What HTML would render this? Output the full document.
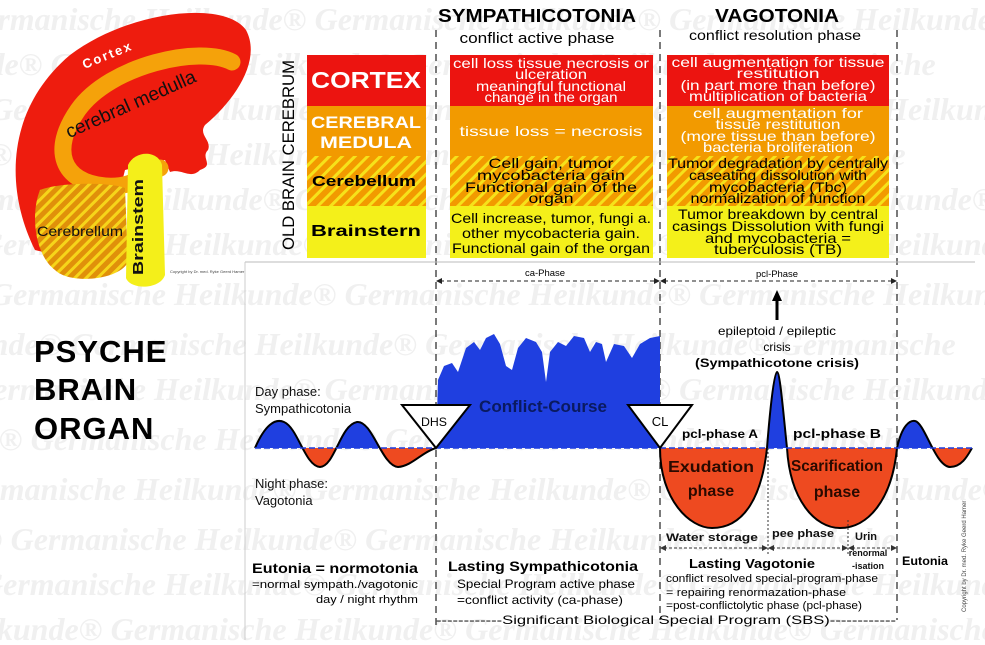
<!DOCTYPE html>
<html><head><meta charset="utf-8"><style>
html,body{margin:0;padding:0;background:#fff;}
svg{display:block;font-family:"Liberation Sans","DejaVu Sans",sans-serif;}
</style></head><body>
<svg width="985" height="645" viewBox="0 0 985 645" xmlns="http://www.w3.org/2000/svg">
<defs>
<pattern id="st" width="9" height="9" patternUnits="userSpaceOnUse" patternTransform="rotate(45)">
<rect width="9" height="9" fill="#f29a00"/><rect width="3" height="9" fill="#f6e21a"/>
</pattern>
<pattern id="st2" width="8" height="8" patternUnits="userSpaceOnUse" patternTransform="rotate(45)">
<rect width="8" height="8" fill="#e0900a"/><rect width="3" height="8" fill="#f6d51a"/>
</pattern>
<clipPath id="up"><rect x="0" y="0" width="985" height="448"/></clipPath>
<clipPath id="dn"><rect x="0" y="448" width="985" height="200"/></clipPath>
</defs>
<!-- watermark -->
<g font-family="Liberation Serif,serif" font-weight="bold" font-style="italic" font-size="32" fill="#f0f0f0">
<text x="-40" y="30">Germanische Heilkunde® Germanische Heilkunde® Germanische Heilkunde®</text>
<text x="-120" y="75">Heilkunde® Germanische Heilkunde® Germanische Heilkunde® Germanische</text>
<text x="-10" y="120">Germanische Heilkunde® Germanische Heilkunde® Germanische Heilkunde®</text>
<text x="-150" y="165">Heilkunde® Germanische Heilkunde® Germanische Heilkunde® Germanische</text>
<text x="-60" y="210">Germanische Heilkunde® Germanische Heilkunde® Germanische Heilkunde®</text>
<text x="-20" y="255">Germanische Heilkunde® Germanische Heilkunde® Germanische Heilkunde®</text>
<text x="-10" y="305">Germanische Heilkunde® Germanische Heilkunde® Germanische Heilkunde®</text>
<text x="-100" y="355">Heilkunde® Germanische Heilkunde® Germanische Heilkunde® Germanische</text>
<text x="-30" y="400">Germanische Heilkunde® Germanische Heilkunde® Germanische Heilkunde®</text>
<text x="-140" y="450">Heilkunde® Germanische Heilkunde® Germanische Heilkunde® Germanische</text>
<text x="-50" y="500">Germanische Heilkunde® Germanische Heilkunde® Germanische Heilkunde®</text>
<text x="-160" y="550">Heilkunde® Germanische Heilkunde® Germanische Heilkunde® Germanische</text>
<text x="-20" y="595">Germanische Heilkunde® Germanische Heilkunde® Germanische Heilkunde®</text>
<text x="-60" y="640">Heilkunde® Germanische Heilkunde® Germanische Heilkunde® Germanische</text>
</g>

<!-- brain -->
<path d="M35,250 C5,190 5,110 70,55 C130,10 225,0 246,30 C262,60 235,100 205,125 C198,135 212,140 208,150 C200,158 215,165 200,170 C190,180 182,168 170,172 L165,160 L125,170 L120,190 L60,200 C60,230 70,260 35,250 Z" fill="#ee1c0e"/>
<path d="M232,62 C200,45 110,65 78,110 C50,150 62,182 105,186 C130,188 140,178 160,168" fill="none" stroke="#f5a20a" stroke-width="17" stroke-linecap="round"/>
<path d="M40,190 C60,182 110,182 125,188 L128,262 C120,280 70,285 55,270 C35,255 30,215 40,190 Z" fill="url(#st2)"/>
<path d="M128,165 C135,150 158,150 162,165 L165,275 C160,290 130,290 126,278 Z" fill="#f4ef1a"/>
<text x="80" y="64" transform="rotate(-22 95 55)" fill="#fff" font-weight="bold" font-size="13" letter-spacing="2">Cortex</text>
<text x="55" y="118" transform="rotate(-24 110 95)" fill="#111" font-size="19">cerebral medulla</text>
<text x="37" y="236" fill="#111" font-size="14" textLength="86" lengthAdjust="spacingAndGlyphs">Cerebrellum</text>
<text x="0" y="0" transform="translate(143,275) rotate(-90)" fill="#111" font-weight="bold" font-size="15" textLength="96" lengthAdjust="spacingAndGlyphs">Brainstem</text>
<text x="170" y="273" font-size="4" fill="#444">Copyright by Dr. med. Ryke Geerd Hamer</text>

<!-- PSYCHE BRAIN ORGAN -->
<g font-weight="bold" font-size="31" fill="#000" letter-spacing="1">
<text x="34" y="362">PSYCHE</text><text x="34" y="400">BRAIN</text><text x="34" y="439">ORGAN</text>
</g>

<!-- headers -->
<text x="537" y="22" text-anchor="middle" font-weight="bold" font-size="18" textLength="198" lengthAdjust="spacingAndGlyphs">SYMPATHICOTONIA</text>
<text x="537" y="43" text-anchor="middle" font-size="15" textLength="155" lengthAdjust="spacingAndGlyphs">conflict active phase</text>
<text x="777" y="22" text-anchor="middle" font-weight="bold" font-size="18" textLength="124" lengthAdjust="spacingAndGlyphs">VAGOTONIA</text>
<text x="775" y="40" text-anchor="middle" font-size="14" textLength="172" lengthAdjust="spacingAndGlyphs">conflict resolution phase</text>

<!-- dashed verticals -->
<g stroke="#222" stroke-width="1.2" stroke-dasharray="7,5">
<line x1="436" y1="30" x2="436" y2="628"/><line x1="660" y1="30" x2="660" y2="620"/><line x1="897" y1="30" x2="897" y2="620"/>
</g>

<!-- side label -->
<text transform="translate(294,250) rotate(-90)" font-size="17" textLength="190" lengthAdjust="spacingAndGlyphs">OLD BRAIN  CEREBRUM</text>

<!-- table rows -->
<g>
<rect x="307" y="55" width="119" height="51" fill="#ec1410"/>
<rect x="450" y="55" width="203" height="51" fill="#ec1410"/>
<rect x="667" y="55" width="222" height="51" fill="#ec1410"/>
<rect x="307" y="106" width="119" height="50" fill="#f29a00"/>
<rect x="450" y="106" width="203" height="50" fill="#f29a00"/>
<rect x="667" y="106" width="222" height="50" fill="#f29a00"/>
<rect x="307" y="156" width="119" height="50" fill="url(#st)"/>
<rect x="450" y="156" width="203" height="50" fill="url(#st)"/>
<rect x="667" y="156" width="222" height="50" fill="url(#st)"/>
<rect x="307" y="206" width="119" height="52" fill="#f4f01a"/>
<rect x="450" y="206" width="203" height="52" fill="#f4f01a"/>
<rect x="667" y="206" width="222" height="52" fill="#f4f01a"/>
</g>
<text x="366" y="88" text-anchor="middle" fill="#fff" font-weight="bold" font-size="23" textLength="110" lengthAdjust="spacingAndGlyphs">CORTEX</text>
<text x="366" y="128" text-anchor="middle" fill="#fff" font-weight="bold" font-size="17" textLength="110" lengthAdjust="spacingAndGlyphs">CEREBRAL</text>
<text x="366" y="148" text-anchor="middle" fill="#fff" font-weight="bold" font-size="17" textLength="92" lengthAdjust="spacingAndGlyphs">MEDULA</text>
<text x="364" y="186" text-anchor="middle" fill="#000" font-weight="bold" font-size="15" textLength="104" lengthAdjust="spacingAndGlyphs">Cerebellum</text>
<text x="366" y="236" text-anchor="middle" fill="#000" font-weight="bold" font-size="16" textLength="110" lengthAdjust="spacingAndGlyphs">Brainstern</text>

<g font-size="14" text-anchor="middle">
<g fill="#fff">
<text x="551" y="68" textLength="196" lengthAdjust="spacingAndGlyphs">cell loss tissue necrosis or</text>
<text x="551" y="79" textLength="72" lengthAdjust="spacingAndGlyphs">ulceration</text>
<text x="551" y="91" textLength="150" lengthAdjust="spacingAndGlyphs">meaningful functional</text>
<text x="551" y="102" textLength="133" lengthAdjust="spacingAndGlyphs">change in the organ</text>
<text x="551" y="136" textLength="183" lengthAdjust="spacingAndGlyphs">tissue loss = necrosis</text>
<text x="778" y="67" textLength="213" lengthAdjust="spacingAndGlyphs">cell augmentation for tissue</text>
<text x="778" y="78" textLength="83" lengthAdjust="spacingAndGlyphs">restitution</text>
<text x="778" y="90" textLength="195" lengthAdjust="spacingAndGlyphs">(in part more than before)</text>
<text x="778" y="101" textLength="178" lengthAdjust="spacingAndGlyphs">multiplication of bacteria</text>
<text x="778" y="118" textLength="170" lengthAdjust="spacingAndGlyphs">cell augmentation for</text>
<text x="778" y="129" textLength="125" lengthAdjust="spacingAndGlyphs">tissue restitution</text>
<text x="778" y="141" textLength="195" lengthAdjust="spacingAndGlyphs">(more tissue than before)</text>
<text x="778" y="152" textLength="150" lengthAdjust="spacingAndGlyphs">bacteria broliferation</text>
</g>
<g fill="#000">
<text x="551" y="168" textLength="125" lengthAdjust="spacingAndGlyphs">Cell gain, tumor</text>
<text x="551" y="180" textLength="148" lengthAdjust="spacingAndGlyphs">mycobacteria gain</text>
<text x="551" y="192" textLength="172" lengthAdjust="spacingAndGlyphs">Functional gain of the</text>
<text x="551" y="203" textLength="45" lengthAdjust="spacingAndGlyphs">organ</text>
<text x="551" y="223" textLength="200" lengthAdjust="spacingAndGlyphs">Cell increase, tumor, fungi a.</text>
<text x="551" y="238" textLength="178" lengthAdjust="spacingAndGlyphs">other mycobacteria gain.</text>
<text x="551" y="253" textLength="198" lengthAdjust="spacingAndGlyphs">Functional gain of the organ</text>
<text x="778" y="168" textLength="220" lengthAdjust="spacingAndGlyphs">Tumor degradation by centrally</text>
<text x="778" y="180" textLength="178" lengthAdjust="spacingAndGlyphs">caseating dissolution with</text>
<text x="778" y="192" textLength="138" lengthAdjust="spacingAndGlyphs">mycobacteria (Tbc)</text>
<text x="778" y="203" textLength="175" lengthAdjust="spacingAndGlyphs">normalization of function</text>
<text x="778" y="219" textLength="200" lengthAdjust="spacingAndGlyphs">Tumor breakdown by central</text>
<text x="778" y="231" textLength="212" lengthAdjust="spacingAndGlyphs">casings Dissolution with fungi</text>
<text x="778" y="243" textLength="146" lengthAdjust="spacingAndGlyphs">and mycobacteria =</text>
<text x="778" y="254" textLength="128" lengthAdjust="spacingAndGlyphs">tuberculosis (TB)</text>
</g>
</g>

<!-- frame lines -->
<line x1="245" y1="262" x2="975" y2="262" stroke="#bbb" stroke-width="1"/>
<line x1="245" y1="262" x2="245" y2="640" stroke="#ccc" stroke-width="1"/>

<!-- phase arrows -->
<g stroke="#222" stroke-width="1" stroke-dasharray="4,3">
<line x1="440" y1="281" x2="656" y2="281"/><line x1="664" y1="281" x2="893" y2="281"/>
</g>
<g fill="#222">
<path d="M436,281 l6,-3 v6z"/><path d="M660,281 l-6,-3 v6z"/><path d="M660,281 l6,-3 v6z"/><path d="M897,281 l-6,-3 v6z"/>
</g>
<text x="545" y="276" text-anchor="middle" font-size="9" textLength="40" lengthAdjust="spacingAndGlyphs">ca-Phase</text>
<text x="777" y="277" text-anchor="middle" font-size="9" textLength="42" lengthAdjust="spacingAndGlyphs">pcl-Phase</text>

<!-- full curve fill -->
<g id="curve">
<path id="cv" d="M255,448 C265,425 275,418 284,422 C298,428 305,466 320,467 C335,466 340,425 357,422 C372,420 382,466 398,467 C412,466 422,452 436,448 L438,380 L444,366 L452,363 L458,372 L466,348 L474,342 L480,350 L486,338 L494,334 L500,344 L506,366 L512,370 L518,348 L526,338 L536,342 L542,352 L546,382 L550,352 L558,342 L566,346 L574,336 L584,338 L590,352 L596,342 L602,344 L606,362 L614,344 L624,346 L632,358 L640,344 L650,338 L660,336 L660,448 C660,500 690,528 712,528 C745,528 762,495 767,448 C770,410 774,372 777,372 C780,372 783,410 787,448 C790,500 815,528 840,528 C868,528 892,500 897,448 C902,425 910,420 915,421 C925,423 935,466 950,467 C962,467 968,455 972,448 Z" fill="#1f3fe0" clip-path="url(#up)"/>
</g>
<path d="M255,448 C265,425 275,418 284,422 C298,428 305,466 320,467 C335,466 340,425 357,422 C372,420 382,466 398,467 C412,466 422,452 436,448 L660,448 C660,500 690,528 712,528 C745,528 762,495 767,448 L787,448 C790,500 815,528 840,528 C868,528 892,500 897,448 C902,425 910,420 915,421 C925,423 935,466 950,467 C962,467 968,455 972,448 Z" fill="#ee4a20" clip-path="url(#dn)"/>
<path d="M255,448 C265,425 275,418 284,422 C298,428 305,466 320,467 C335,466 340,425 357,422 C372,420 382,466 398,467 C412,466 422,452 436,448" fill="none" stroke="#000" stroke-width="2"/>
<path d="M660,448 C660,500 690,528 712,528 C745,528 762,495 767,448 C770,410 774,372 777,372 C780,372 783,410 787,448 C790,500 815,528 840,528 C868,528 892,500 897,448 C902,425 910,420 915,421 C925,423 935,466 950,467 C962,467 968,455 972,448" fill="none" stroke="#000" stroke-width="2"/>
<line x1="255" y1="448" x2="972" y2="448" stroke="#1f3fe0" stroke-width="1.5" stroke-dasharray="6,3"/>
<!-- triangles -->
<path d="M402,405 L470,405 L436,448 Z" fill="#fff" stroke="#000" stroke-width="2"/>
<text x="434" y="426" text-anchor="middle" font-size="12" textLength="26" lengthAdjust="spacingAndGlyphs">DHS</text>
<path d="M628,405 L692,405 L660,448 Z" fill="#fff" stroke="#000" stroke-width="2"/>
<text x="660" y="426" text-anchor="middle" font-size="13">CL</text>

<!-- arrow up -->
<line x1="777" y1="320" x2="777" y2="298" stroke="#000" stroke-width="3"/>
<path d="M777,290 l-5,11 h10z" fill="#000"/>

<!-- labels -->
<g font-size="13" fill="#111">
<text x="255" y="396">Day phase:</text>
<text x="255" y="413">Sympathicotonia</text>
<text x="255" y="488">Night phase:</text>
<text x="255" y="505">Vagotonia</text>
</g>
<text x="543" y="412" text-anchor="middle" font-weight="bold" font-size="17" fill="#0a1a60" textLength="128" lengthAdjust="spacingAndGlyphs">Conflict-Course</text>
<text x="777" y="335" text-anchor="middle" font-size="12" textLength="118" lengthAdjust="spacingAndGlyphs">epileptoid / epileptic</text>
<text x="777" y="351" text-anchor="middle" font-size="12">crisis</text>
<text x="777" y="367" text-anchor="middle" font-weight="bold" font-size="12" textLength="164" lengthAdjust="spacingAndGlyphs">(Sympathicotone crisis)</text>
<text x="720" y="438" text-anchor="middle" font-weight="bold" font-size="12" textLength="76" lengthAdjust="spacingAndGlyphs">pcl-phase A</text>
<text x="837" y="438" text-anchor="middle" font-weight="bold" font-size="13" textLength="88" lengthAdjust="spacingAndGlyphs">pcl-phase B</text>
<g font-weight="bold" font-size="16" fill="#2a0a00" text-anchor="middle">
<text x="711" y="472" textLength="86" lengthAdjust="spacingAndGlyphs">Exudation</text>
<text x="711" y="496">phase</text>
<text x="837" y="471" textLength="92" lengthAdjust="spacingAndGlyphs">Scarification</text>
<text x="837" y="497">phase</text>
</g>
<g stroke="#333" stroke-dasharray="2,2" stroke-width="1">
<line x1="768" y1="448" x2="768" y2="555"/><line x1="848" y1="520" x2="848" y2="555"/>
</g>
<g font-size="11" font-weight="bold" fill="#111" text-anchor="middle">
<text x="712" y="541" textLength="92" lengthAdjust="spacingAndGlyphs">Water  storage</text>
<text x="803" y="537" textLength="62" lengthAdjust="spacingAndGlyphs">pee phase</text>
<text x="866" y="540">Urin</text>
<text x="868" y="556" font-size="9">renormal</text>
<text x="868" y="569" font-size="9">-isation</text>
</g>
<g stroke="#333" stroke-width="1" stroke-dasharray="3,2">
<line x1="664" y1="548" x2="764" y2="548"/><line x1="772" y1="548" x2="844" y2="548"/><line x1="852" y1="548" x2="893" y2="548"/>
</g>
<g fill="#333">
<path d="M660,548 l6,-3 v6z"/><path d="M768,548 l-6,-3 v6z"/><path d="M768,548 l6,-3 v6z"/><path d="M848,548 l-6,-3 v6z"/><path d="M848,548 l6,-3 v6z"/><path d="M897,548 l-6,-3 v6z"/>
</g>

<text x="252" y="573" font-weight="bold" font-size="14" textLength="166" lengthAdjust="spacingAndGlyphs">Eutonia = normotonia</text>
<text x="252" y="588" font-size="11" textLength="166" lengthAdjust="spacingAndGlyphs">=normal sympath./vagotonic</text>
<text x="418" y="603" font-size="11" text-anchor="end" textLength="102" lengthAdjust="spacingAndGlyphs">day / night rhythm</text>
<text x="543" y="571" text-anchor="middle" font-weight="bold" font-size="14" textLength="190" lengthAdjust="spacingAndGlyphs">Lasting Sympathicotonia</text>
<text x="457" y="588" font-size="12" textLength="178" lengthAdjust="spacingAndGlyphs">Special Program active phase</text>
<text x="457" y="604" font-size="12" textLength="166" lengthAdjust="spacingAndGlyphs">=conflict activity (ca-phase)</text>
<text x="752" y="568" text-anchor="middle" font-weight="bold" font-size="13" textLength="126" lengthAdjust="spacingAndGlyphs">Lasting Vagotonie</text>
<text x="666" y="582" font-size="11" textLength="212" lengthAdjust="spacingAndGlyphs">conflict resolved special-program-phase</text>
<text x="666" y="596" font-size="11" textLength="180" lengthAdjust="spacingAndGlyphs">= repairing renormazation-phase</text>
<text x="666" y="609" font-size="11" textLength="196" lengthAdjust="spacingAndGlyphs">=post-conflictolytic phase (pcl-phase)</text>
<text x="902" y="565" font-weight="bold" font-size="12" textLength="46" lengthAdjust="spacingAndGlyphs">Eutonia</text>
<text transform="translate(966,612) rotate(-90)" font-size="6" fill="#444">Copyright by Dr. med. Ryke Geerd Hamer</text>
<text x="666" y="624" text-anchor="middle" font-size="12" textLength="460" lengthAdjust="spacingAndGlyphs">------------Significant Biological Special Program (SBS)------------</text>
</svg>
</body></html>
